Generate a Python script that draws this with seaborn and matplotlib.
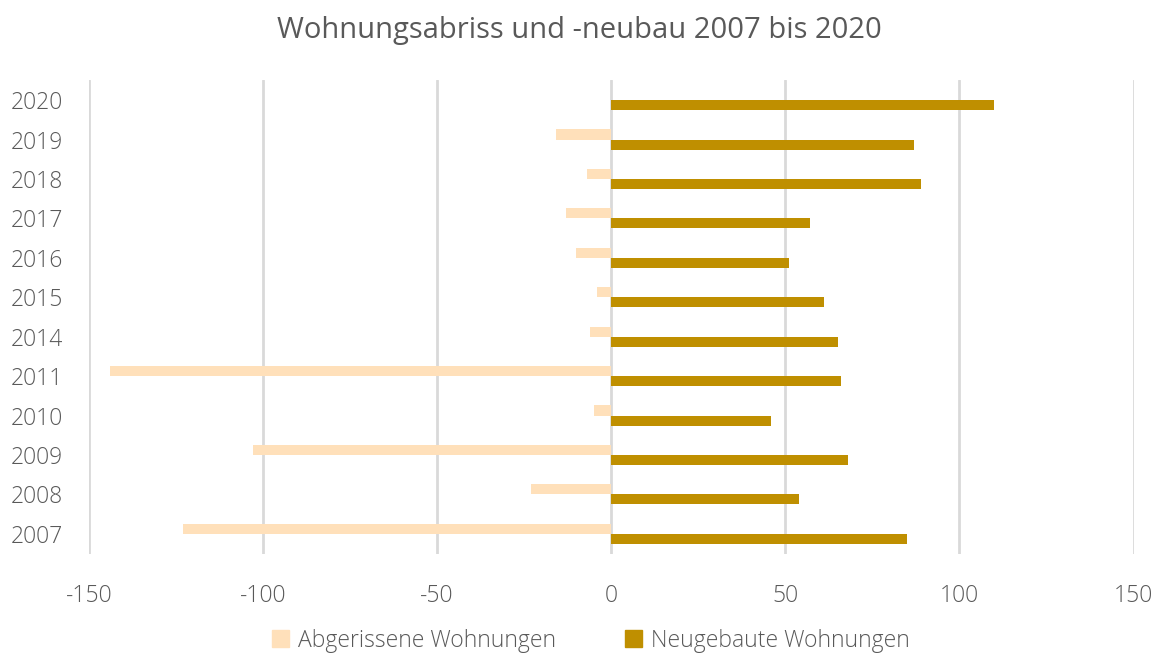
import pandas as pd
import numpy as np
import matplotlib.pyplot as plt
import seaborn as sns

years = ["2020", "2019", "2018", "2017", "2016", "2015", "2014", "2011", "2010", "2009", "2008", "2007"]
abriss = [0, -16, -7, -13, -10, -4, -6, -144, -5, -103, -23, -123]
neubau = [110, 87, 89, 57, 51, 61, 65, 66, 46, 68, 54, 85]
series = ["Abgerissene Wohnungen", "Neugebaute Wohnungen"]
colors = ["#FFE0BA", "#BF8F00"]

df = pd.DataFrame({
    "Jahr": years * 2,
    "Wert": abriss + neubau,
    "Reihe": [series[0]] * len(years) + [series[1]] * len(years),
})

sns.set_theme(style="white")
plt.rcParams['font.family'] = ['Open Sans', 'DejaVu Sans']
plt.rcParams['font.weight'] = 'light'
plt.rcParams['axes.unicode_minus'] = False
grey = "#595959"

fig = plt.figure(figsize=(11.59, 6.59), dpi=100)
ax = fig.add_axes([0.0768, 0.160, 0.9012, 0.718])

sns.barplot(data=df, x="Wert", y="Jahr", hue="Reihe", order=years,
            hue_order=series, palette=colors, orient="h", width=0.51,
            ax=ax, legend=False, saturation=1, linewidth=0)

ax.set_xlim(-150, 150)
ax.set_xticks(np.arange(-150, 151, 50))
ax.xaxis.grid(True, color="#D9D9D9", linewidth=2)
ax.set_axisbelow(True)
for s in ax.spines.values():
    s.set_visible(False)
ax.set_xlabel("")
ax.set_ylabel("")
ax.tick_params(axis="both", colors=grey, labelsize=16.5, length=0)
ax.tick_params(axis="x", pad=22)
for lbl in ax.get_yticklabels():
    lbl.set_horizontalalignment("left")
    lbl.set_x(-0.07)

fig.suptitle("Wohnungsabriss und -neubau 2007 bis 2020", y=0.975, fontsize=21, color=grey)

handles = [plt.Rectangle((0, 0), 1, 1, color=c) for c in colors]
fig.legend(handles, series, loc="lower center", ncol=2, frameon=False,
           bbox_to_anchor=(0.51, -0.022), fontsize=16.5, labelcolor=grey,
           handlelength=0.75, handleheight=0.75, handletextpad=0.4, columnspacing=3.0)

fig.savefig("out.png", dpi=100)
